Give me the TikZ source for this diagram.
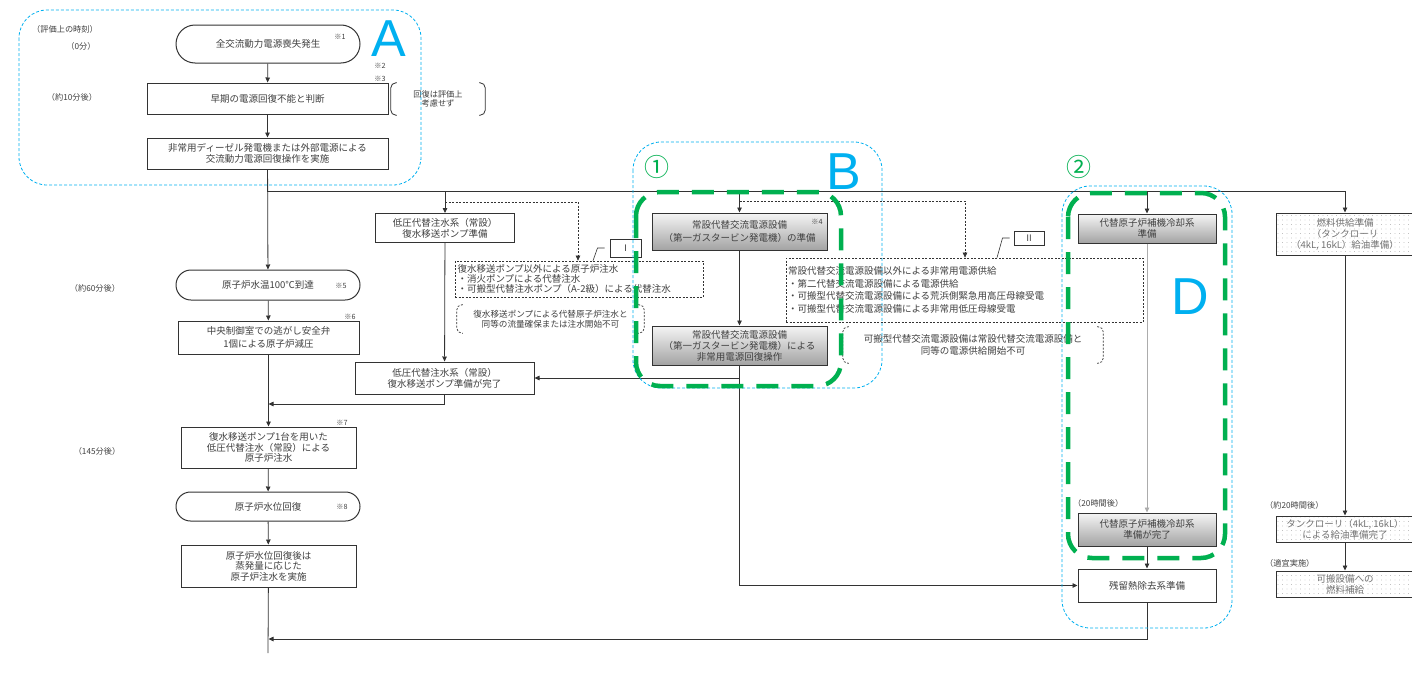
\documentclass[tikz,border=0pt]{standalone}
\usepackage{fontspec}
\newfontfamily\jpf{Noto Sans CJK JP}
\newfontfamily\latf{Liberation Sans}
\usetikzlibrary{shapes.misc,arrows.meta,patterns.meta}
\definecolor{cblue}{HTML}{00B0F0}
\definecolor{cgreen}{HTML}{00B050}
\newcommand\fs[2]{\jpf\fontsize{#1}{#2}\selectfont}
\newcommand\mybrk[2]{%
 \draw[#2, rounded corners=5pt] ([xshift=6pt]#1.north west) -- (#1.north west) -- (#1.south west) -- ([xshift=6pt]#1.south west);
 \draw[#2, rounded corners=5pt] ([xshift=-6pt]#1.north east) -- (#1.north east) -- (#1.south east) -- ([xshift=-6pt]#1.south east);}
\begin{document}
\begin{tikzpicture}[x=1pt,y=-1pt,
 every node/.style={inner sep=0pt, text=black!75, font=\fs{9.5}{11}},
 box/.style={draw=black!80, line width=1pt, align=center},
 term/.style={box, rounded rectangle},
 gbox/.style={box, top color=gray!8, bottom color=gray!72},
 fbox/.style={box, pattern={Dots[distance=4.5pt,radius=0.35pt]}, pattern color=gray!75, text=black!55},
 lk/.style={draw=black!80, line width=0.8pt},
 arr/.style={lk, -{Triangle[length=5pt,width=4.5pt]}},
 darr/.style={arr, dash pattern=on 2pt off 1.5pt, line width=0.6pt},
 dbox/.style={draw=black!80, line width=0.7pt, dash pattern=on 2pt off 1.5pt},
 note/.style={align=center},
 tl/.style={font=\fs{8.2}{9}},
 mk/.style={font=\fs{7.2}{7.5}},
 blueR/.style={draw=cblue, line width=0.8pt, dash pattern=on 3pt off 2pt, rounded corners=28pt},
 greenR/.style={draw=cgreen, line width=4.5pt, dash pattern=on 22pt off 13pt, rounded corners=24pt},
 big/.style={text=cblue, font=\latf\fontsize{52}{52}\selectfont},
 circ/.style={text=cgreen, font=\fs{25}{25}},
]
\useasboundingbox (0,0) rectangle (1412,688);
\fill[white] (0,0) rectangle (1412,688);

% time labels
\node[tl] (t0) at (65,29) {（評価上の時刻）};
\node[tl] (t1) at (81,46) {（0分）};
\node[tl] (t2) at (72,97) {（約10分後）};
\node[tl] (t3) at (95,288) {（約60分後）};
\node[tl] (t4) at (97,451) {（145分後）};

% main column
\node[term, minimum width=184pt, minimum height=38pt] (n1) at (268,44) {全交流動力電源喪失発生};
\node[mk] (m1) at (340,37) {※1};
\node[box, minimum width=241pt, minimum height=31pt] (n2) at (267.5,98.5) {早期の電源回復不能と判断};
\node[mk] (m2) at (380,65.5) {※2};
\node[mk] (m3) at (380,78.5) {※3};
\node[note, font=\fs{8.2}{8.8}, minimum width=94pt, minimum height=32pt] (nb0) at (438,99) {回復は評価上\\考慮せず};
\node[box, minimum width=241pt, minimum height=31pt, font=\fs{9.5}{10.5}] (n3) at (267.5,153.5) {非常用ディーゼル発電機または外部電源による\\交流動力電源回復操作を実施};
\node[term, minimum width=184pt, minimum height=30pt] (n4) at (268,285) {原子炉水温100℃到達};
\node[mk] (m5) at (341,286) {※5};
\node[box, minimum width=181pt, minimum height=33pt, font=\fs{9.5}{13}] (n5) at (268.5,337.5) {中央制御室での逃がし安全弁\\1個による原子炉減圧};
\node[mk] (m6) at (350,317) {※6};
\node[box, minimum width=175pt, minimum height=41pt, font=\fs{9.5}{10.5}] (n6) at (268.5,447.5) {復水移送ポンプ1台を用いた\\低圧代替注水（常設）による\\原子炉注水};
\node[mk] (m7) at (342,423) {※7};
\node[term, minimum width=184pt, minimum height=29pt] (n7) at (268,506.5) {原子炉水位回復};
\node[mk] (m8) at (342,507) {※8};
\node[box, minimum width=175pt, minimum height=42pt, font=\fs{9.5}{10.5}] (n8) at (268.5,566) {原子炉水位回復後は\\蒸発量に応じた\\原子炉注水を実施};
\coordinate (nend) at (268,653);

% low pressure column
\node[box, minimum width=139pt, minimum height=29pt] (L1) at (445,228) {低圧代替注水系（常設）\\復水移送ポンプ準備};
\node[box, minimum width=179pt, minimum height=32pt] (L2) at (444.5,378) {低圧代替注水系（常設）\\復水移送ポンプ準備が完了};
\node[dbox, align=left, text width=243pt, minimum height=36pt, inner xsep=2.5pt, font=\fs{9.5}{10}] (DI) at (579,279) {復水移送ポンプ以外による原子炉注水\\・消火ポンプによる代替注水\\・可搬型代替注水ポンプ（A-2級）による代替注水};
\node[box, font=\fs{9}{10}, minimum width=31pt, minimum height=18pt] (RI) at (625.5,248) {Ⅰ};
\node[note, font=\fs{8.6}{9.5}, minimum width=187pt, minimum height=28pt] (nbI) at (550.5,319) {復水移送ポンプによる代替原子炉注水と\\同等の流量確保または注水開始不可};

% B column
\node[gbox, minimum width=175pt, minimum height=37pt, font=\fs{9.5}{12.5}] (G1) at (739.5,231.5) {常設代替交流電源設備\\（第一ガスタービン発電機）の準備};
\node[mk] (m4) at (817,222) {※4};
\node[gbox, minimum width=175pt, minimum height=39pt, font=\fs{9.5}{11}] (G2) at (739.5,345.5) {常設代替交流電源設備\\（第一ガスタービン発電機）による\\非常用電源回復操作};
\node[dbox, align=left, text width=353pt, minimum height=64pt, inner xsep=2pt, font=\fs{9.5}{12.7}] (DII) at (964.5,290) {常設代替交流電源設備以外による非常用電源供給\\・第二代替交流電源設備による電源供給\\・可搬型代替交流電源設備による荒浜側緊急用高圧母線受電\\・可搬型代替交流電源設備による非常用低圧母線受電};
\node[box, font=\fs{9}{10}, minimum width=30pt, minimum height=14pt] (RII) at (1029,238) {Ⅱ};
\node[note, font=\fs{9.5}{12}, minimum width=260pt, minimum height=36pt] (nbII) at (973,345) {可搬型代替交流電源設備は常設代替交流電源設備と\\同等の電源供給開始不可};

% D column
\node[gbox, minimum width=138pt, minimum height=29pt, font=\fs{9.5}{10.5}] (G3) at (1147,228.5) {代替原子炉補機冷却系\\準備};
\node[gbox, minimum width=138pt, minimum height=33pt, font=\fs{9.5}{10.5}] (G4) at (1147,529.5) {代替原子炉補機冷却系\\準備が完了};
\node[tl, anchor=west] (t5) at (1073,503) {（20時間後）};
\node[box, minimum width=138pt, minimum height=33pt] (R) at (1147,585.5) {残留熱除去系準備};

% fuel column
\node[fbox, minimum width=138pt, minimum height=42pt, font=\fs{9.5}{11}] (F1) at (1345,234) {燃料供給準備\\（タンクローリ\\（4kL, 16kL）給油準備）};
\node[fbox, minimum width=138pt, minimum height=26pt, font=\fs{9.5}{11}] (F2) at (1345,529) {タンクローリ（4kL, 16kL）\\による給油準備完了};
\node[fbox, minimum width=138pt, minimum height=26pt, font=\fs{9.5}{11}] (F3) at (1345,584) {可搬設備への\\燃料補給};
\node[tl, anchor=west] (t6) at (1265,505) {（約20時間後）};
\node[tl, anchor=west] (t7) at (1265,563) {（適宜実施）};

% connectors
\draw[arr] (n1) -- (n2);
\draw[arr] (n2) -- (n3);
\draw[arr] (n3) -- (n4);
\coordinate (br) at (n3.south |- 0,191);
\draw[lk] (br) -- (F1.north |- br);
\draw[arr] (L1.north |- br) -- (L1.north);
\draw[arr] (G1.north |- br) -- (G1.north);
\draw[arr] (G3.north |- br) -- (G3.north);
\draw[arr] (F1.north |- br) -- (F1.north);
\draw[arr] (n4) -- (n5);
\draw[arr] (L1) -- (L2);
\coordinate (j1) at (n5.south |- 0,404);
\draw[arr] (L2.south) |- (j1);
\draw[arr] (n5) -- (n6);
\draw[arr] (n6) -- (n7);
\draw[arr] (n7) -- (n8);
\draw[lk] (n8) -- (nend);
\draw[arr] (G1) -- (G2);
\draw[arr] (G2.south |- L2.east) -- (L2.east);
\draw[arr] (G2.south) |- (R.west);
\draw[arr, draw=gray!65] (G3) -- (G4);
\draw[arr] (G4) -- (R);
\coordinate (j2) at (n8.south |- 0,639);
\draw[arr] (R.south) |- (j2);
\draw[arr] (F1) -- (F2);
\draw[arr] (F2) -- (F3);

% dashed arrows and leaders
\draw[darr] (L1.north |- 0,202) -| (DI.north -| 578,0);
\draw[darr] (G1.north |- 0,201) -| (DII.north -| 965,0);
\draw[lk, line width=0.6pt] ([xshift=-5pt]RI.west) -- ++(-7,0) -- (DI.north -| 593,0);
\draw[lk, line width=0.6pt] ([xshift=-4pt]RII.west) -- ++(-7,0) -- (DII.north -| 997,0);

% brackets
\mybrk{nb0}{lk,line width=0.8pt}
\mybrk{nbI}{dbox}
\mybrk{nbII}{dbox}

% regions
\draw[blueR] (19,10) rectangle (421,185);
\draw[blueR] (633,142) rectangle (882,388);
\draw[blueR] (1062,186) rectangle (1232,628);
\draw[greenR] (636,192) rectangle (841,386);
\draw[greenR] (1068,193) rectangle (1225,558);

\node[big] (lA) at (389,39) {A};
\node[big] (lB) at (843.5,171.5) {B};
\node[big] (lD) at (1190.5,297) {D};
\node[circ] (c1) at (657,167) {①};
\node[circ] (c2) at (1079,167) {②};
\end{tikzpicture}
\end{document}
